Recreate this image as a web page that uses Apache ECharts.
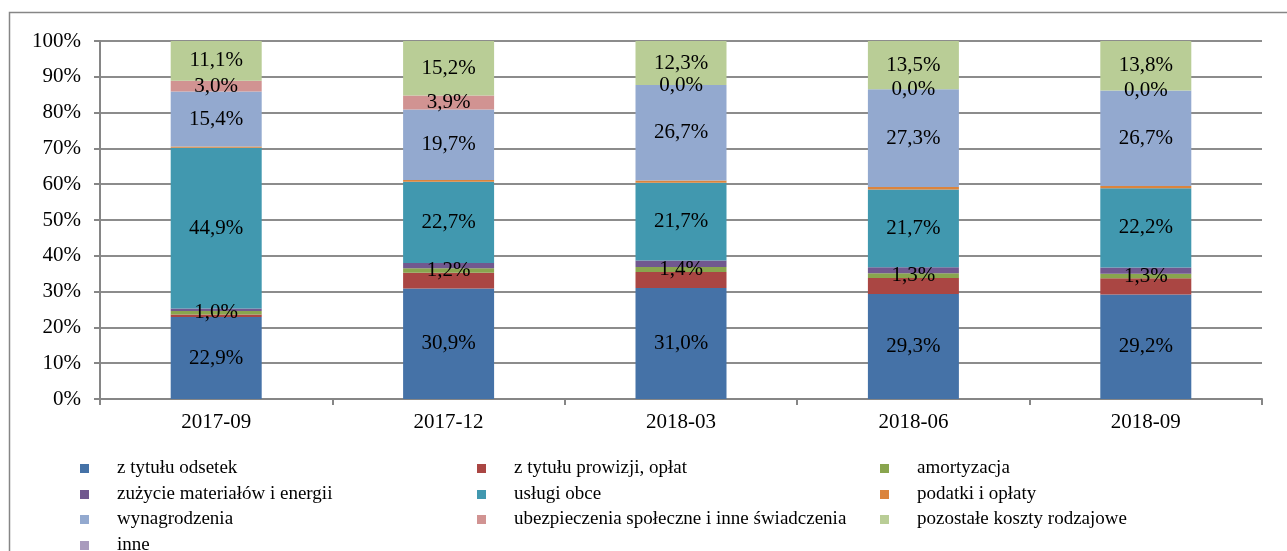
<!DOCTYPE html>
<html>
<head>
<meta charset="utf-8">
<script src="https://cdn.jsdelivr.net/npm/echarts@6/dist/echarts.min.js"></script>
<style>
  html, body { margin: 0; padding: 0; background: #fff; }
  #chart { width: 1287px; height: 551px; }
</style>
</head>
<body>
<div id="chart"></div>
<script>
// Quarters on the category axis
const categories = ['2017-09', '2017-12', '2018-03', '2018-06', '2018-09'];

// Cost structure (% of total) per quarter, one array per cost type
const zTytuluOdsetek      = [22.9, 30.9, 31.0, 29.3, 29.2];
const zTytuluProwizji     = [0.7, 4.4, 4.5, 4.5, 4.5];
const amortyzacja         = [1.0, 1.2, 1.4, 1.3, 1.3];
const zuzycieMaterialow   = [0.7, 1.5, 1.8, 1.7, 1.7];
const uslugiObce          = [44.9, 22.7, 21.7, 21.7, 22.2];
const podatkiIOplaty      = [0.3, 0.5, 0.6, 0.7, 0.6];
const wynagrodzenia       = [15.4, 19.7, 26.7, 27.3, 26.7];
const ubezpieczenia       = [3.0, 3.9, 0.0, 0.0, 0.0];
const pozostaleKoszty     = [11.1, 15.2, 12.3, 13.5, 13.8];
const inne                = [0, 0, 0, 0, 0];

// Y axis tick values
const yTicks = [0, 10, 20, 30, 40, 50, 60, 70, 80, 90, 100];

const seriesDefs = [
  { name: 'z tytułu odsetek', data: zTytuluOdsetek, color: '#4572A7', label: true },
  { name: 'z tytułu prowizji, opłat', data: zTytuluProwizji, color: '#AA4643', label: false },
  { name: 'amortyzacja', data: amortyzacja, color: '#89A54E', label: true },
  { name: 'zużycie materiałów i energii', data: zuzycieMaterialow, color: '#71588F', label: false },
  { name: 'usługi obce', data: uslugiObce, color: '#4198AF', label: true },
  { name: 'podatki i opłaty', data: podatkiIOplaty, color: '#DB843D', label: false },
  { name: 'wynagrodzenia', data: wynagrodzenia, color: '#93A9CF', label: true },
  { name: 'ubezpieczenia społeczne i inne świadczenia', data: ubezpieczenia, color: '#D19392', label: true },
  { name: 'pozostałe koszty rodzajowe', data: pozostaleKoszty, color: '#B9CD96', label: true },
  { name: 'inne', data: inne, color: '#A99BBD', label: false }
];

const FONT = '"Liberation Serif", "DejaVu Serif", serif';
const fmt = v => v.toFixed(1).replace('.', ',') + '%';

const series = seriesDefs.map(d => ({
  name: d.name,
  type: 'bar',
  stack: 'total',
  barWidth: 91,
  data: d.data,
  itemStyle: { color: d.color },
  label: {
    show: d.label,
    position: 'inside',
    formatter: p => fmt(p.value),
    color: '#000',
    fontFamily: FONT,
    fontSize: 21
  },
  labelLayout: { hideOverlap: false }
}));

// Legend: three columns, four rows (row-major order)
const legendCols = [75, 472, 875];
const legendRows = [454, 480, 505, 531];
const legends = seriesDefs.map((d, i) => ({
  left: legendCols[i % 3],
  top: legendRows[Math.floor(i / 3)],
  itemWidth: 9,
  itemHeight: 9,
  icon: 'rect',
  data: [d.name],
  selectedMode: false,
  textStyle: { fontFamily: FONT, fontSize: 19, color: '#000', padding: [0, 0, 0, 23] }
}));

const chart = echarts.init(document.getElementById('chart'), null, { renderer: 'canvas' });
chart.setOption({
  animation: false,
  backgroundColor: '#fff',
  graphic: [{
    type: 'rect',
    shape: { x: 9.5, y: 12.5, width: 1290, height: 560 },
    style: { fill: 'none', stroke: '#868686', lineWidth: 1.5 },
    silent: true
  }],
  grid: { left: 100, right: 25, top: 41, bottom: 152 },
  legend: legends,
  xAxis: {
    type: 'category',
    data: categories,
    axisLine: { lineStyle: { color: '#868686', width: 2 } },
    axisTick: { show: true, alignWithLabel: false, length: 6, lineStyle: { color: '#868686', width: 2 } },
    axisLabel: { fontFamily: FONT, fontSize: 21, color: '#000', margin: 13 }
  },
  yAxis: {
    type: 'value',
    min: yTicks[0],
    max: yTicks[yTicks.length - 1],
    interval: 10,
    axisLine: { show: true, lineStyle: { color: '#868686', width: 2 } },
    axisTick: { show: true, length: 6, lineStyle: { color: '#868686', width: 2 } },
    axisLabel: { fontFamily: FONT, fontSize: 21, color: '#000', margin: 19, formatter: v => v + '%' },
    splitLine: { show: true, lineStyle: { color: '#8c8c8c', width: 2 } }
  },
  series: series
});
</script>
</body>
</html>
